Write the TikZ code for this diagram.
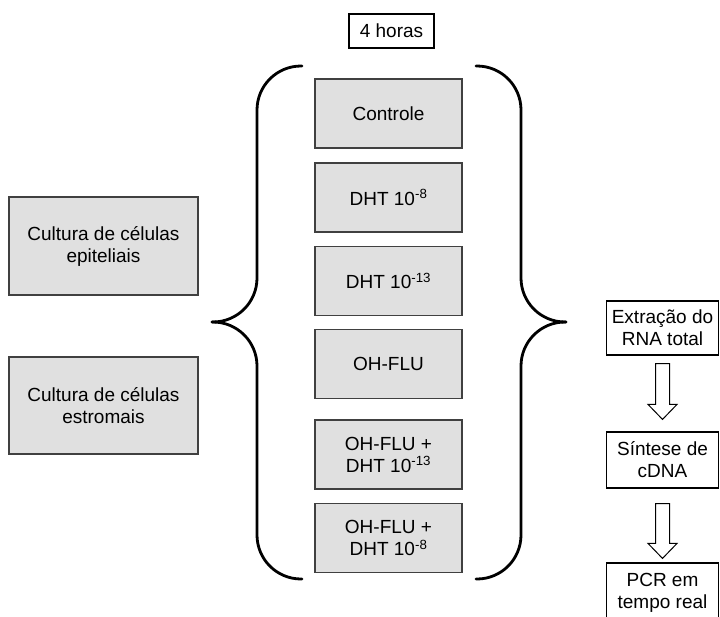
\documentclass[tikz,border=0pt]{standalone}
\usepackage{fontspec}
\setmainfont{Liberation Sans}
\usetikzlibrary{calc}

% hollow block arrow from the top of its shaft (#1) to its tip (#2)
\newcommand{\openarrow}[2]{%
  \draw[blockarr] ($(#1)+(-7,0)$) -- ($(#2)+(-7,-15)$) -- ($(#2)+(-14.5,-15)$) -- (#2)
    -- ($(#2)+(14.5,-15)$) -- ($(#2)+(7,-15)$) -- ($(#1)+(7,0)$) -- cycle;}

\begin{document}
\begin{tikzpicture}[x=1pt, y=-1pt,
    every node/.style={font=\fontsize{19}{22}\selectfont, align=center, inner sep=0pt},
    graybox/.style={draw=black!75, fill=black!12, line width=1.1pt},
    whitebox/.style={draw=black, fill=white, line width=1.2pt},
    brace/.style={line width=2.8pt, rounded corners=44pt, line cap=round},
    blockarr/.style={draw=black, line width=1pt, fill=white}]
    \useasboundingbox (0,0) rectangle (720,616);

    % Time
    \node[whitebox, minimum width=85pt, minimum height=34pt] (hours) at (391.5,31) {4 horas};

    % Cultures
    \node[graybox, minimum width=189pt, minimum height=98pt] (epit) at (103.5,246) {Cultura de células\\epiteliais};
    \node[graybox, minimum width=189pt, minimum height=97pt] (strom) at (103.5,405.5) {Cultura de células\\estromais};

    % Treatments
    \begin{scope}[every node/.append style={graybox, minimum width=147pt, minimum height=69pt}]
        \node (ctrl) at (388.5,113.5) {Controle};
        \node (dhta) at (388.5,197.5) {DHT 10\textsuperscript{-8}};
        \node (dhtb) at (388.5,281) {DHT 10\textsuperscript{-13}};
        \node (oh) at (388.5,364) {OH-FLU};
        \node (ohb) at (388.5,454.5) {OH-FLU +\\DHT 10\textsuperscript{-13}};
        \node (oha) at (388.5,538) {OH-FLU +\\DHT 10\textsuperscript{-8}};
    \end{scope}

    % Braces
    \draw[brace] (302,66) -| (257,322) -- (212,322);
    \draw[brace] (212,322) -- (257,322) |- (302,579);
    \draw[brace] (476,66) -| (521,322) -- (566,322);
    \draw[brace] (566,322) -- (521,322) |- (476,579);

    % RNA steps
    \node[whitebox, minimum width=112pt, minimum height=54pt] (ext) at (662.5,328) {Extração do\\RNA total};
    \node[whitebox, minimum width=112pt, minimum height=56pt] (synth) at (662.5,460) {Síntese de\\cDNA};
    \node[whitebox, minimum width=112pt, minimum height=60pt] (pcr) at (662.5,593) {PCR em\\tempo real};

    \coordinate (a1s) at ($(ext.south)+(0,8)$);
    \coordinate (a1e) at ($(synth.north)+(0,-12)$);
    \coordinate (a2s) at ($(synth.south)+(0,15)$);
    \coordinate (a2e) at ($(pcr.north)+(0,-4)$);
    \openarrow{a1s}{a1e}
    \openarrow{a2s}{a2e}
\end{tikzpicture}
\end{document}
